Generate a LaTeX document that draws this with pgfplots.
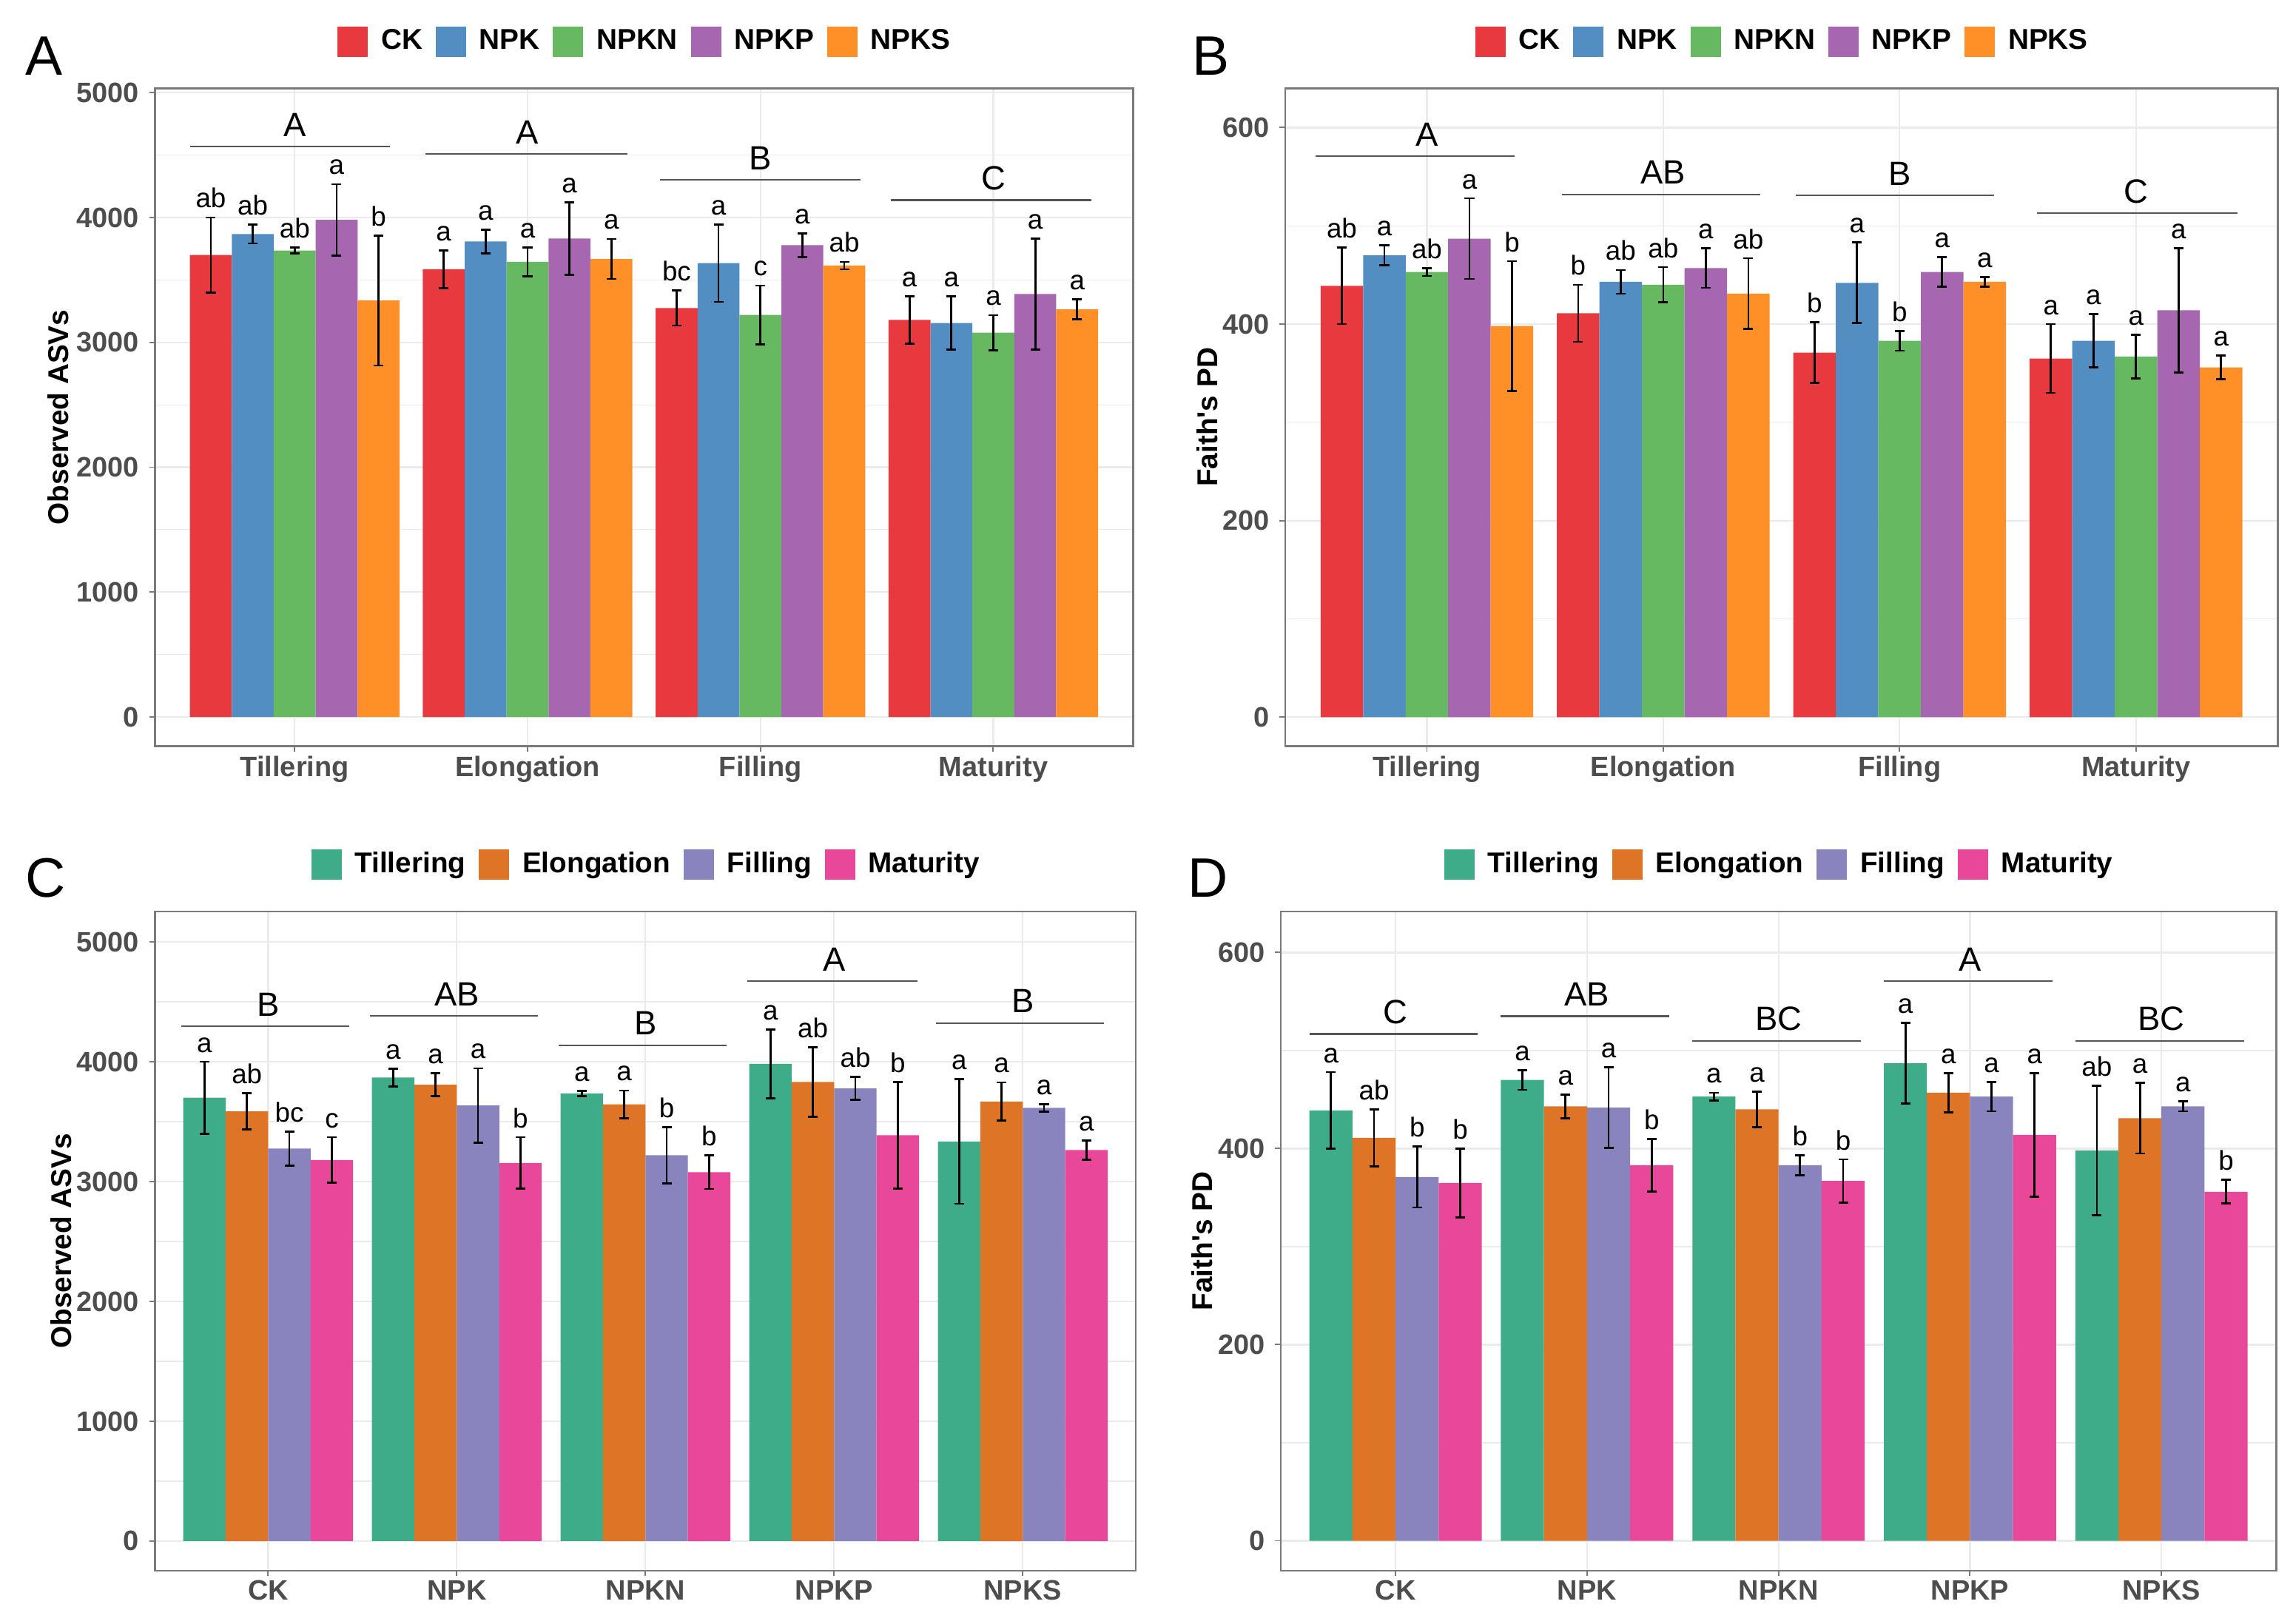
\documentclass[border=0pt]{standalone}
\usepackage{fontspec}
\setmainfont{Liberation Sans}
\usepackage{pgfplots}
\usepackage{pgfplotstable}
\pgfplotsset{compat=1.18}

\definecolor{cCK}{HTML}{E83A3E}
\definecolor{cNPK}{HTML}{538EC2}
\definecolor{cNPKN}{HTML}{67B961}
\definecolor{cNPKP}{HTML}{A667B0}
\definecolor{cNPKS}{HTML}{FF8F26}
\definecolor{cTil}{HTML}{3EAC89}
\definecolor{cElo}{HTML}{DD7426}
\definecolor{cFil}{HTML}{8A84BE}
\definecolor{cMat}{HTML}{E9489A}
\definecolor{tickgray}{HTML}{4D4D4D}
\definecolor{framegray}{HTML}{7A7A7A}
\definecolor{gridgray}{HTML}{EBEBEB}
\definecolor{linegray}{HTML}{555555}

\newcommand{\fs}[1]{\fontsize{#1}{#1}\selectfont}

% observed ASVs, rows = stages
\pgfplotstableread{
x CK CKe CKl NPK NPKe NPKl NPKN NPKNe NPKNl NPKP NPKPe NPKPl NPKS NPKSe NPKSl
0 3700 300 ab 3868 75 ab 3736 22 ab 3982 285 a 3335 520 b
1 3586 150 a 3808 95 a 3645 115 a 3832 290 a 3668 160 a
2 3275 140 bc 3635 310 a 3220 235 c 3778 95 a 3615 30 ab
3 3180 190 a 3155 215 a 3078 140 a 3387 445 a 3264 80 a
}\tabA
% Faith's PD, rows = stages
\pgfplotstableread{
x CK CKe CKl NPK NPKe NPKl NPKN NPKNe NPKNl NPKP NPKPe NPKPl NPKS NPKSe NPKSl
0 439 39 ab 470 10 a 453 4 ab 487 41 a 398 66 b
1 411 29 b 443 12 ab 440 18 ab 457 20 a 431 36 ab
2 371 31 b 442 41 a 383 10 b 453 15 a 443 5 a
3 365 35 a 383 27 a 367 22 a 414 63 a 356 12 a
}\tabB
% observed ASVs, rows = treatments
\pgfplotstableread{
x Til Tile Till Elo Eloe Elol Fil File Fill Mat Mate Matl
0 3700 300 a 3586 150 ab 3275 140 bc 3180 190 c
1 3868 75 a 3808 95 a 3635 310 a 3155 215 b
2 3736 22 a 3645 115 a 3220 235 b 3078 140 b
3 3982 285 a 3832 290 ab 3778 95 ab 3387 445 b
4 3335 520 a 3668 160 a 3615 30 a 3264 80 a
}\tabC
% Faith's PD, rows = treatments
\pgfplotstableread{
x Til Tile Till Elo Eloe Elol Fil File Fill Mat Mate Matl
0 439 39 a 411 29 ab 371 31 b 365 35 b
1 470 10 a 443 12 a 442 41 a 383 27 b
2 453 4 a 440 18 a 383 10 b 367 22 b
3 487 41 a 457 20 a 453 15 a 414 63 a
4 398 66 ab 431 36 a 443 5 a 356 12 b
}\tabD

\pgfplotsset{
  panel/.style={
    scale only axis, anchor=south west,
    axis line style={framegray, line width=0.6pt},
    tick align=outside, xtick pos=bottom, ytick pos=left,
    major tick length=1.9pt, minor tick length=0pt,
    tick style={framegray, line width=0.5pt},
    xmajorgrids, ymajorgrids, yminorgrids,
    major grid style={gridgray, line width=0.55pt},
    minor grid style={gridgray, line width=0.3pt},
    tick label style={font=\fs{9.6}\bfseries, text=tickgray},
    xticklabel style={yshift=2pt},
    /pgf/number format/assume math mode=true,
    /pgf/number format/1000 sep={},
    ylabel style={font=\fs{9.8}\bfseries, anchor=center},
    legend style={draw=none, fill=none, at={(0.5,1)}, anchor=center, yshift=16pt,
      font=\fs{9.8}\bfseries, inner sep=0pt, nodes={inner sep=0pt},
      /tikz/every odd column/.append style={column sep=4.5pt},
      /tikz/every even column/.append style={column sep=4.5pt}},
  },
  sq/.style={legend image code/.code={\fill[#1] (0pt,-5pt) rectangle (10pt,5pt);}},
  % #1 = series column, #2 = bar width (axis units); the x offset goes in the table
  bars/.style 2 args={ybar, bar width=#2, bar shift=0, draw=none, forget plot,
    error bars/y dir=both, error bars/y explicit,
    error bars/error bar style={black, line width=0.7pt},
    error bars/error mark options={rotate=90, black, mark size=1.65pt, line width=0.7pt},
    nodes near coords, point meta=explicit symbolic,
    visualization depends on={\thisrow{#1e} \as \myerr},
    every node near coord/.append style={font=\fs{9.3}, text=black, anchor=base,
      shift={(axis direction cs:0,\myerr)}, yshift=3.3pt}},
  grp/.style={linegray, line width=0.6pt, no marks, forget plot},
}
\tikzset{grplab/.style={font=\fs{11.5}, anchor=base, yshift=3.5pt}}

\begin{document}
\begin{tikzpicture}
\path[use as bounding box] (0,0) rectangle (784.2pt,555.2pt);

% ---------- A ----------
\begin{axis}[panel, at={(53pt,300pt)}, width=334.5pt, height=225pt,
  xmin=-0.6, xmax=3.6, ymin=-234, ymax=5035,
  xtick={0,1,2,3}, xticklabels={Tillering,Elongation,Filling,Maturity},
  ytick={0,1000,2000,3000,4000,5000}, minor ytick={500,1500,2500,3500,4500},
  ylabel={Observed ASVs}, ylabel style={at={(axis description cs:-0.0987,0.5)}},
  legend columns=5]
\addlegendimage{sq=cCK}\addlegendentry{CK}
\addlegendimage{sq=cNPK}\addlegendentry{NPK}
\addlegendimage{sq=cNPKN}\addlegendentry{NPKN}
\addlegendimage{sq=cNPKP}\addlegendentry{NPKP}
\addlegendimage{sq=cNPKS}\addlegendentry{NPKS}
\addplot[bars={CK}{0.18}, fill=cCK] table[x expr=\thisrow{x}-0.36, y=CK, y error=CKe, meta=CKl] {\tabA};
\addplot[bars={NPK}{0.18}, fill=cNPK] table[x expr=\thisrow{x}-0.18, y=NPK, y error=NPKe, meta=NPKl] {\tabA};
\addplot[bars={NPKN}{0.18}, fill=cNPKN] table[x=x, y=NPKN, y error=NPKNe, meta=NPKNl] {\tabA};
\addplot[bars={NPKP}{0.18}, fill=cNPKP] table[x expr=\thisrow{x}+0.18, y=NPKP, y error=NPKPe, meta=NPKPl] {\tabA};
\addplot[bars={NPKS}{0.18}, fill=cNPKS] table[x expr=\thisrow{x}+0.36, y=NPKS, y error=NPKSe, meta=NPKSl] {\tabA};
\addplot[grp] coordinates {(-0.45,4567) (0.41,4567)};
\addplot[grp] coordinates {(0.56,4509) (1.43,4509)};
\addplot[grp] coordinates {(1.57,4301) (2.43,4301)};
\addplot[grp] coordinates {(2.56,4139) (3.42,4139)};
\node[grplab] at (axis cs:0,4567) {A};
\node[grplab] at (axis cs:1,4509) {A};
\node[grplab] at (axis cs:2,4301) {B};
\node[grplab] at (axis cs:3,4139) {C};
\end{axis}

% ---------- B ----------
\begin{axis}[panel, at={(439.5pt,300pt)}, width=339.5pt, height=225pt,
  xmin=-0.6, xmax=3.6, ymin=-29.5, ymax=640,
  xtick={0,1,2,3}, xticklabels={Tillering,Elongation,Filling,Maturity},
  ytick={0,200,400,600}, minor ytick={100,300,500},
  ylabel={Faith\textquotesingle s PD}, ylabel style={at={(axis description cs:-0.0787,0.5)}},
  legend columns=5]
\addlegendimage{sq=cCK}\addlegendentry{CK}
\addlegendimage{sq=cNPK}\addlegendentry{NPK}
\addlegendimage{sq=cNPKN}\addlegendentry{NPKN}
\addlegendimage{sq=cNPKP}\addlegendentry{NPKP}
\addlegendimage{sq=cNPKS}\addlegendentry{NPKS}
\addplot[bars={CK}{0.18}, fill=cCK] table[x expr=\thisrow{x}-0.36, y=CK, y error=CKe, meta=CKl] {\tabB};
\addplot[bars={NPK}{0.18}, fill=cNPK] table[x expr=\thisrow{x}-0.18, y=NPK, y error=NPKe, meta=NPKl] {\tabB};
\addplot[bars={NPKN}{0.18}, fill=cNPKN] table[x=x, y=NPKN, y error=NPKNe, meta=NPKNl] {\tabB};
\addplot[bars={NPKP}{0.18}, fill=cNPKP] table[x expr=\thisrow{x}+0.18, y=NPKP, y error=NPKPe, meta=NPKPl] {\tabB};
\addplot[bars={NPKS}{0.18}, fill=cNPKS] table[x expr=\thisrow{x}+0.36, y=NPKS, y error=NPKSe, meta=NPKSl] {\tabB};
\addplot[grp] coordinates {(-0.47,571) (0.37,571)};
\addplot[grp] coordinates {(0.57,532) (1.41,532)};
\addplot[grp] coordinates {(1.56,531) (2.40,531)};
\addplot[grp] coordinates {(2.58,513) (3.43,513)};
\node[grplab] at (axis cs:0,571) {A};
\node[grplab] at (axis cs:1,532) {AB};
\node[grplab] at (axis cs:2,531) {B};
\node[grplab] at (axis cs:3,513) {C};
\end{axis}

% ---------- C ----------
\begin{axis}[panel, at={(53pt,18pt)}, width=335.5pt, height=225.5pt,
  xmin=-0.6, xmax=4.6, ymin=-247, ymax=5255,
  xtick={0,1,2,3,4}, xticklabels={CK,NPK,NPKN,NPKP,NPKS},
  ytick={0,1000,2000,3000,4000,5000}, minor ytick={500,1500,2500,3500,4500},
  ylabel={Observed ASVs}, ylabel style={at={(axis description cs:-0.096,0.5)}},
  legend columns=4]
\addlegendimage{sq=cTil}\addlegendentry{Tillering}
\addlegendimage{sq=cElo}\addlegendentry{Elongation}
\addlegendimage{sq=cFil}\addlegendentry{Filling}
\addlegendimage{sq=cMat}\addlegendentry{Maturity}
\addplot[bars={Til}{0.225}, fill=cTil] table[x expr=\thisrow{x}-0.3375, y=Til, y error=Tile, meta=Till] {\tabC};
\addplot[bars={Elo}{0.225}, fill=cElo] table[x expr=\thisrow{x}-0.1125, y=Elo, y error=Eloe, meta=Elol] {\tabC};
\addplot[bars={Fil}{0.225}, fill=cFil] table[x expr=\thisrow{x}+0.1125, y=Fil, y error=File, meta=Fill] {\tabC};
\addplot[bars={Mat}{0.225}, fill=cMat] table[x expr=\thisrow{x}+0.3375, y=Mat, y error=Mate, meta=Matl] {\tabC};
\addplot[grp] coordinates {(-0.46,4297) (0.43,4297)};
\addplot[grp] coordinates {(0.54,4384) (1.43,4384)};
\addplot[grp] coordinates {(1.54,4138) (2.43,4138)};
\addplot[grp] coordinates {(2.54,4672) (3.44,4672)};
\addplot[grp] coordinates {(3.54,4323) (4.43,4323)};
\node[grplab] at (axis cs:0,4297) {B};
\node[grplab] at (axis cs:1,4384) {AB};
\node[grplab] at (axis cs:2,4138) {B};
\node[grplab] at (axis cs:3,4672) {A};
\node[grplab] at (axis cs:4,4323) {B};
\end{axis}

% ---------- D ----------
\begin{axis}[panel, at={(438pt,18pt)}, width=340.5pt, height=225.5pt,
  xmin=-0.6, xmax=4.6, ymin=-30.5, ymax=642,
  xtick={0,1,2,3,4}, xticklabels={CK,NPK,NPKN,NPKP,NPKS},
  ytick={0,200,400,600}, minor ytick={100,300,500},
  ylabel={Faith\textquotesingle s PD}, ylabel style={at={(axis description cs:-0.079,0.5)}},
  legend columns=4]
\addlegendimage{sq=cTil}\addlegendentry{Tillering}
\addlegendimage{sq=cElo}\addlegendentry{Elongation}
\addlegendimage{sq=cFil}\addlegendentry{Filling}
\addlegendimage{sq=cMat}\addlegendentry{Maturity}
\addplot[bars={Til}{0.225}, fill=cTil] table[x expr=\thisrow{x}-0.3375, y=Til, y error=Tile, meta=Till] {\tabD};
\addplot[bars={Elo}{0.225}, fill=cElo] table[x expr=\thisrow{x}-0.1125, y=Elo, y error=Eloe, meta=Elol] {\tabD};
\addplot[bars={Fil}{0.225}, fill=cFil] table[x expr=\thisrow{x}+0.1125, y=Fil, y error=File, meta=Fill] {\tabD};
\addplot[bars={Mat}{0.225}, fill=cMat] table[x expr=\thisrow{x}+0.3375, y=Mat, y error=Mate, meta=Matl] {\tabD};
\addplot[grp] coordinates {(-0.45,517) (0.43,517)};
\addplot[grp] coordinates {(0.55,535) (1.43,535)};
\addplot[grp] coordinates {(1.55,510) (2.43,510)};
\addplot[grp] coordinates {(2.55,571) (3.43,571)};
\addplot[grp] coordinates {(3.55,510) (4.43,510)};
\node[grplab] at (axis cs:0,517) {C};
\node[grplab] at (axis cs:1,535) {AB};
\node[grplab] at (axis cs:2,510) {BC};
\node[grplab] at (axis cs:3,571) {A};
\node[grplab] at (axis cs:4,510) {BC};
\end{axis}

% panel letters
\node[font=\fs{19}] at (15pt,536pt) {A};
\node[font=\fs{19}] at (414pt,536pt) {B};
\node[font=\fs{19}] at (15.5pt,255pt) {C};
\node[font=\fs{19}] at (413pt,255pt) {D};
\end{tikzpicture}
\end{document}
